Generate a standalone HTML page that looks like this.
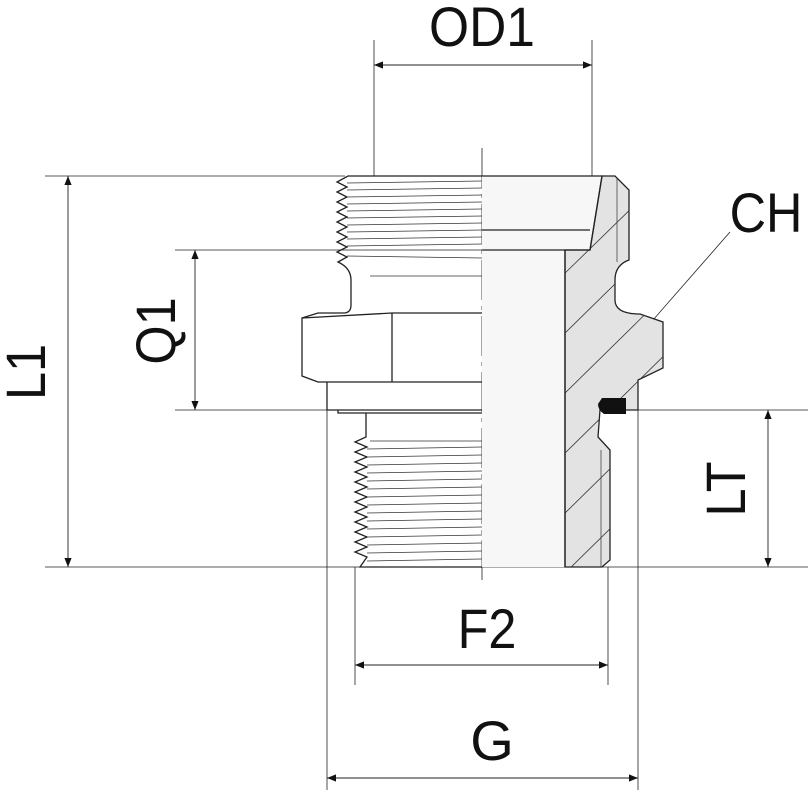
<!DOCTYPE html>
<html><head><style>html,body{margin:0;padding:0;background:#fff}svg{display:block}text{font-family:"Liberation Sans",sans-serif;fill:#111}</style></head>
<body>
<svg width="808" height="800" viewBox="0 0 808 800" xmlns="http://www.w3.org/2000/svg">
<defs>
<marker id="a" viewBox="0 0 10 10" refX="10" refY="5" markerWidth="32" markerHeight="9" markerUnits="userSpaceOnUse" orient="auto-start-reverse"><path d="M0,1 L10,5 L0,9 Z" fill="#111"/></marker>
<clipPath id="hc"><path d="M565,250 L590,250 L602,176 L615,176 L629,190 L629,260 Q615,265 615,280 L615,300 Q615,314 640,314 L663,322 L663,368 L638,380 L638,410 L600,410 L598,437 L610,450 L610,560 L602,567 L565,567 Z"/></clipPath>
</defs>
<g stroke="#222" stroke-width="0.8" fill="none">
<line x1="374" y1="40" x2="374" y2="176"/>
<line x1="592" y1="40" x2="592" y2="250"/>
<line x1="45" y1="176" x2="345" y2="176"/>
<line x1="45" y1="567" x2="808" y2="567"/>
<line x1="175" y1="250" x2="483" y2="250"/>
<line x1="175" y1="410" x2="808" y2="410"/>
<line x1="355" y1="567" x2="355" y2="685"/>
<line x1="608" y1="567" x2="608" y2="685"/>
<line x1="327" y1="410" x2="327" y2="790"/>
<line x1="638" y1="410" x2="638" y2="790"/>
<line x1="625" y1="352" x2="730" y2="232"/>
<line x1="482" y1="148" x2="482" y2="580" stroke-dasharray="40,6,4,6"/>
</g>
<g stroke="#222" stroke-width="0.9" marker-start="url(#a)" marker-end="url(#a)">
<line x1="374" y1="65" x2="592" y2="65"/>
<line x1="68" y1="176" x2="68" y2="567"/>
<line x1="195" y1="250" x2="195" y2="410"/>
<line x1="768" y1="410" x2="768" y2="567"/>
<line x1="355" y1="665" x2="608" y2="665"/>
<line x1="327" y1="778" x2="638" y2="778"/>
</g>
<path d="M482,176 L602,176 L590,250 L565,250 L565,567 L482,567 Z" fill="#f7f7f7"/>
<path d="M565,250 L590,250 L602,176 L615,176 L629,190 L629,260 Q615,265 615,280 L615,300 Q615,314 640,314 L663,322 L663,368 L638,380 L638,410 L600,410 L598,437 L610,450 L610,560 L602,567 L565,567 Z" fill="#e3e3e3" stroke="#222" stroke-width="1.3"/>
<g clip-path="url(#hc)" stroke="#333" stroke-width="0.8">
<line x1="560" y1="278" x2="640" y2="200"/>
<line x1="560" y1="338" x2="680" y2="220"/>
<line x1="560" y1="398" x2="680" y2="280"/>
<line x1="560" y1="458" x2="680" y2="340"/>
<line x1="560" y1="518" x2="680" y2="400"/>
<line x1="560" y1="578" x2="680" y2="460"/>
</g>
<line x1="617" y1="178" x2="617" y2="262" stroke="#444" stroke-width="0.8"/>
<line x1="601" y1="450" x2="601" y2="567" stroke="#444" stroke-width="0.8"/>
<path d="M602,398 L626,398 L626,414 L604,414 Q598,410 598,404 Z" fill="#111"/>
<g stroke="#222" stroke-width="1.3" fill="none">
<path d="M482,176 L602,176 L590,250 L565,250"/>
<line x1="482" y1="230" x2="590" y2="230"/>
<line x1="482" y1="250" x2="565" y2="250"/>
<line x1="565" y1="250" x2="565" y2="567"/>
<path d="M482,176 L348,176 L337,182 L347,187 L337,192 L347,197 L337,202 L347,207 L337,212 L347,217 L337,222 L347,227 L337,232 L347,237 L337,242 L347,247 L337,252 L347,257 L338,262 Q351,268 351,280 L351,305 Q351,312 345,313"/>
<path d="M345,313 L318,313 L302,318 L302,376 L318,382 L482,382 M302,318 L392,313 L482,313 M392,313 L392,382"/>
<path d="M327,382 L327,410 L482,410 M338,410 L338,413 L482,413"/>
<path d="M366,413 L366,437 L355,442 L367,447 L355,452 L367,457 L355,462 L367,467 L355,472 L367,477 L355,482 L367,487 L355,492 L367,497 L355,502 L367,507 L355,512 L367,517 L355,522 L367,527 L355,532 L367,537 L355,542 L367,547 L355,552 L367,557 L360,567 L482,567"/>
</g>
<g stroke="#333" stroke-width="0.7">
<line x1="347" y1="183" x2="482" y2="181"/><line x1="347" y1="190" x2="482" y2="188"/>
<line x1="347" y1="197" x2="482" y2="195"/><line x1="347" y1="204" x2="482" y2="202"/>
<line x1="347" y1="211" x2="482" y2="209"/><line x1="347" y1="218" x2="482" y2="216"/>
<line x1="347" y1="225" x2="482" y2="223"/><line x1="347" y1="232" x2="482" y2="230"/>
<line x1="347" y1="239" x2="482" y2="237"/><line x1="347" y1="246" x2="482" y2="244"/>
<line x1="347" y1="256" x2="482" y2="258"/><line x1="370" y1="276" x2="482" y2="276"/>
<line x1="370" y1="441" x2="482" y2="441"/>
<line x1="367" y1="449" x2="482" y2="447"/><line x1="367" y1="457" x2="482" y2="455"/>
<line x1="367" y1="465" x2="482" y2="463"/><line x1="367" y1="473" x2="482" y2="471"/>
<line x1="367" y1="481" x2="482" y2="479"/><line x1="367" y1="489" x2="482" y2="487"/>
<line x1="367" y1="497" x2="482" y2="495"/><line x1="367" y1="505" x2="482" y2="503"/>
<line x1="367" y1="513" x2="482" y2="511"/><line x1="367" y1="521" x2="482" y2="519"/>
<line x1="367" y1="529" x2="482" y2="527"/><line x1="367" y1="537" x2="482" y2="535"/>
<line x1="367" y1="545" x2="482" y2="543"/><line x1="367" y1="553" x2="482" y2="551"/>
<line x1="367" y1="561" x2="482" y2="559"/>
</g>
<g font-size="56">
<text x="482" y="46" text-anchor="middle" transform="translate(482 0) scale(0.92 1) translate(-482 0)">OD1</text>
<text x="766" y="232" text-anchor="middle" transform="translate(766 0) scale(0.9 1) translate(-766 0)">CH</text>
<text x="487" y="648" text-anchor="middle" transform="translate(487 0) scale(0.9 1) translate(-487 0)">F2</text>
<text x="492" y="760" text-anchor="middle">G</text>
<text transform="translate(45 372) rotate(-90) scale(0.9 1)" text-anchor="middle">L1</text>
<text transform="translate(175 331) rotate(-90) scale(0.9 1)" text-anchor="middle">Q1</text>
<text transform="translate(745 489) rotate(-90) scale(0.9 1)" text-anchor="middle">LT</text>
</g>
</svg>
</body></html>
